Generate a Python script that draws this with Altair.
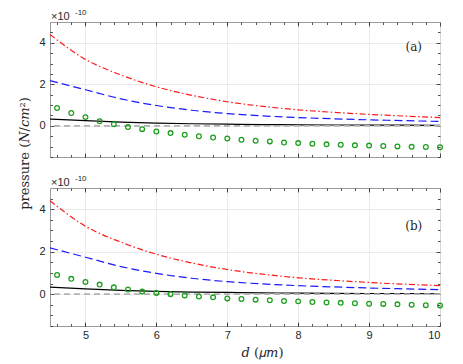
import altair as alt
import pandas as pd
import numpy as np

# ---------------- data (in units of 1e-10) ----------------
d_curve = [4.5, 5.0, 5.5, 6.0, 6.5, 7.0, 7.5, 8.0, 8.5, 9.0, 9.5, 10.0]
red_vals = [4.40, 3.20, 2.45, 1.88, 1.47, 1.16, 0.94, 0.77, 0.65, 0.55, 0.47, 0.40]
blue_vals = [2.18, 1.74, 1.30, 0.98, 0.75, 0.59, 0.48, 0.40, 0.34, 0.29, 0.25, 0.21]
black_vals = [0.33, 0.25, 0.18, 0.13, 0.10, 0.08, 0.06, 0.05, 0.04, 0.03, 0.03, 0.02]

d_pts = [4.6, 4.8, 5.0, 5.2, 5.4, 5.6, 5.8, 6.0, 6.2, 6.4, 6.6, 6.8, 7.0, 7.2,
         7.4, 7.6, 7.8, 8.0, 8.2, 8.4, 8.6, 8.8, 9.0, 9.2, 9.4, 9.6, 9.8, 10.0]
green_a = [0.86, 0.62, 0.42, 0.22, 0.08, -0.06, -0.16, -0.27, -0.35, -0.43, -0.50,
           -0.56, -0.61, -0.67, -0.72, -0.75, -0.80, -0.83, -0.86, -0.89, -0.91,
           -0.94, -0.95, -0.97, -0.99, -1.01, -1.02, -1.03]
green_b = [0.90, 0.72, 0.57, 0.45, 0.32, 0.22, 0.12, 0.06, 0.00, -0.06, -0.11,
           -0.15, -0.20, -0.23, -0.26, -0.29, -0.32, -0.34, -0.37, -0.39, -0.41,
           -0.43, -0.45, -0.46, -0.48, -0.50, -0.52, -0.53]

x_major = [5, 6, 7, 8, 9, 10]
x_minor = [round(4.6 + 0.2 * i, 1) for i in range(27)]
y_major = [0, 2, 4]
y_minor = [-1.5, -1.0, -0.5, 0.5, 1.0, 1.5, 2.5, 3.0, 3.5, 4.5]

X_DOMAIN = [4.5, 10]
Y_DOMAIN = [-1.5, 5]

LABEL_FONT = "Liberation Sans"
SERIF = "DejaVu Serif"
TXT = "#262626"
W = 390

xs = alt.Scale(domain=X_DOMAIN, nice=False, zero=False)
ys = alt.Scale(domain=Y_DOMAIN, nice=False, zero=False)


def ax(orient, values, size=0, grid=False, labels=False, **kw):
    d = dict(orient=orient, values=values, grid=grid, labels=labels, domain=False,
             title=None, ticks=size > 0, tickColor=TXT, tickWidth=0.8,
             gridColor="#e6e6e6", gridWidth=0.8,
             labelFont=LABEL_FONT, labelFontSize=11, labelColor=TXT)
    if size > 0:
        d["tickSize"] = size
        d["offset"] = -size
    d.update(kw)
    return alt.Axis(**d)


def panel(green, tag, tag_y, h, show_x_labels, y_title):
    curves = pd.DataFrame({"d": d_curve, "red": red_vals, "blue": blue_vals, "black": black_vals})
    pts = pd.DataFrame({"d": d_pts, "p": green})

    yt = {}
    if y_title:
        yt = dict(title="pressure (𝑁/𝑐𝑚²)", titleFont=SERIF, titleFontSize=13,
                  titleFontWeight="normal", titleColor=TXT, titleX=-19, titleY=131,
                  titleAngle=-90, titleBaseline="bottom")
    red = alt.Chart(curves).mark_line(color="#ff1a1a", strokeWidth=1.2,
                                       strokeDash=[6, 2.5, 1.5, 2.5],
                                       interpolate="monotone").encode(
        x=alt.X("d:Q", scale=xs, axis=ax("bottom", x_major, grid=True)),
        y=alt.Y("red:Q", scale=ys, axis=ax("left", y_major, grid=True, **yt)),
    )
    xt = {}
    if show_x_labels:
        xt = dict(labels=True, title="𝑑 (𝜇𝑚)", titleFont=SERIF, titleFontSize=13,
                  titleFontWeight="normal", titleColor=TXT, titleX=212, titleY=24,
                  titleBaseline="top", labelPadding=3)
    blue = alt.Chart(curves).mark_line(color="#1a1aff", strokeWidth=1.2,
                                        strokeDash=[8, 4],
                                        interpolate="monotone").encode(
        x=alt.X("d:Q", scale=xs, axis=ax("bottom", x_major, size=4, **xt)),
        y=alt.Y("blue:Q", scale=ys, axis=ax("left", y_major, size=4, labels=True, labelPadding=5)),
    )
    black = alt.Chart(curves).mark_line(color="#000000", strokeWidth=1.2,
                                         interpolate="monotone").encode(
        x=alt.X("d:Q", scale=xs, axis=ax("bottom", x_minor, size=2.5)),
        y=alt.Y("black:Q", scale=ys, axis=ax("left", y_minor, size=2.5)),
    )
    zero = alt.Chart(pd.DataFrame({"z": [0.0]})).mark_rule(
        color="#b3b3b3", strokeWidth=1.8, strokeDash=[6, 4]).encode(
        y=alt.Y("z:Q", scale=ys, axis=ax("right", y_major, size=4)),
    )
    green_l = alt.Chart(pts).mark_point(shape="circle", filled=False, color="#1e9e1e",
                                         size=22, strokeWidth=1.3, opacity=1).encode(
        x=alt.X("d:Q", scale=xs, axis=ax("top", x_major, size=4)),
        y=alt.Y("p:Q", scale=ys, axis=ax("right", y_minor, size=2.5)),
    )
    topminor = alt.Chart(pd.DataFrame({"d": [4.5], "p": [0.0]})).mark_point(opacity=0).encode(
        x=alt.X("d:Q", scale=xs, axis=ax("top", x_minor, size=2.5)),
        y=alt.Y("p:Q", scale=ys, axis=None),
    )
    tag_t = alt.Chart(pd.DataFrame({"d": [9.63], "p": [tag_y], "t": [tag]})).mark_text(
        font=SERIF, fontSize=12, color=TXT).encode(
        x=alt.X("d:Q", scale=xs, axis=None), y=alt.Y("p:Q", scale=ys, axis=None), text="t:N")
    exp1 = alt.Chart(pd.DataFrame({"t": ["×10"]})).mark_text(
        font=LABEL_FONT, fontSize=11, color=TXT, align="left", baseline="alphabetic").encode(
        x=alt.value(1), y=alt.value(-2), text="t:N")
    exp2 = alt.Chart(pd.DataFrame({"t": ["-10"]})).mark_text(
        font=LABEL_FONT, fontSize=8, color=TXT, align="left", baseline="alphabetic").encode(
        x=alt.value(25), y=alt.value(-7), text="t:N")

    return alt.layer(red, blue, black, zero, green_l, topminor, tag_t, exp1, exp2).resolve_axis(
        x="independent", y="independent").properties(width=W, height=h)


pa = panel(green_a, "(a)", 3.8, 135, False, True)
pb = panel(green_b, "(b)", 3.23, 138, True, False)

chart = alt.vconcat(pa, pb, spacing=31, bounds="flush").properties(
    padding={"left": 9, "top": 0, "right": 5, "bottom": 0}
).configure_view(stroke="#9a9a9a", strokeWidth=1)

chart.save("out.html", embed_options={"renderer": "svg", "actions": False})
